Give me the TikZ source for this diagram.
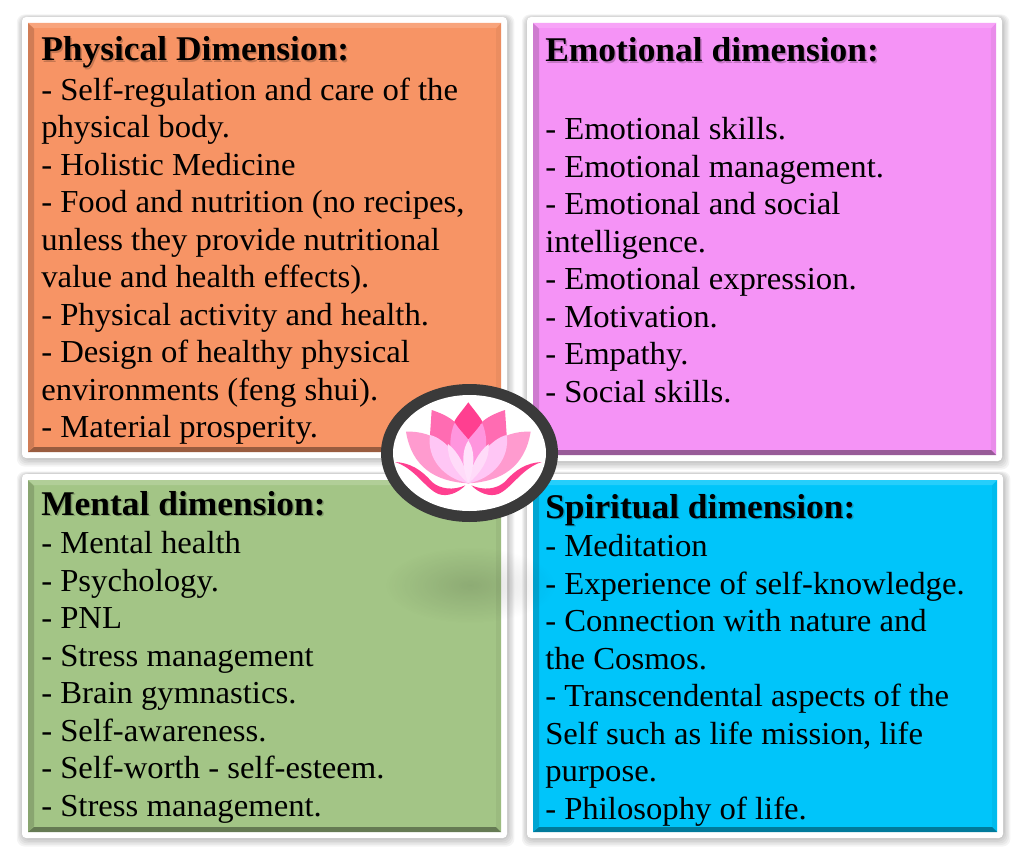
\documentclass[tikz,border=0pt]{standalone}
\usepackage{fontspec}
\setmainfont[FakeStretch=1.022]{Liberation Serif}
\usetikzlibrary{fadings}
\newcommand{\bodyfont}{\fontsize{24}{28.1}\selectfont}
\newcommand{\titlefont}{\fontsize{26}{28.1}\selectfont\bfseries}
\definecolor{cOrange}{HTML}{F79465}
\definecolor{cPink}{HTML}{F593F6}
\definecolor{cGreen}{HTML}{A3C586}
\definecolor{cBlue}{HTML}{00C5FA}
\definecolor{cRing}{HTML}{3A3A3A}
\definecolor{cDeep}{HTML}{FF3F90}
\definecolor{cBack}{HTML}{FF6CB2}
\definecolor{cMid}{HTML}{FF95DE}
\definecolor{cOuter}{HTML}{FF9BCF}
\definecolor{cInner}{HTML}{FFC6F5}
\definecolor{cCore}{HTML}{FFE2FB}
\tikzfading[name=softblob,inner color=transparent!0,outer color=transparent!100]
\tikzset{
  bodytext/.style={anchor=north west,inner sep=0pt,align=left,font=\bodyfont,text=black},
  titletext/.style={anchor=base west,inner sep=0pt,font=\titlefont,text=black},
  titleshadow/.style={anchor=base west,inner sep=0pt,font=\titlefont,text=black,opacity=.2},
  frame/.style={fill=white,rounded corners=3pt},
}
% x0 y0 x1 y1
\newcommand{\panelshadow}[4]{%
  \foreach \k in {1,...,6}{
    \fill[black,opacity=.045,rounded corners=6pt] (#1-4-\k*1.2,#2-5-\k*.6) rectangle (#3+5+\k*1.4,#4+5+\k*1.6);
  }
}
% x0 y0 x1 y1 colour
\newcommand{\panel}[5]{%
  \fill[frame] (#1-6,#2-6) rectangle (#3+6,#4+6);
  \fill[#5] (#1,#2) rectangle (#3,#4);
  \fill[#5!84!black] (#1,#2) -- (#1+6,#2+6) -- (#1+6,#4-6) -- (#1,#4) -- cycle;
  \fill[#5!95!black] (#3,#2) -- (#3-5,#2+6) -- (#3-5,#4-6) -- (#3,#4) -- cycle;
  \fill[#5!85!white] (#1,#2) -- (#1+6,#2+5) -- (#3-5,#2+5) -- (#3,#2) -- cycle;
  \fill[#5!62!black] (#1,#4) -- (#1+6,#4-5) -- (#3-5,#4-5) -- (#3,#4) -- cycle;
}
\newcommand{\lotushalf}{%
  % back petal
  \fill[cBack] (185,120) .. controls (215,130) and (240,142) .. (256,158) -- (295,340) .. controls (220,300) and (170,250) .. (180,195) -- cycle;
  % outer petal
  \fill[cOuter] (108,185) .. controls (150,183) and (190,195) .. (230,225) .. controls (260,260) and (285,300) .. (295,340) .. controls (195,335) and (125,290) .. (108,185) -- cycle;
  % middle petal
  \fill[cMid] (253,160) .. controls (275,175) and (290,195) .. (295,208) -- (295,340) .. controls (250,300) and (225,230) .. (253,160) -- cycle;
  % inner petal
  \fill[cInner] (180,195) .. controls (225,205) and (280,270) .. (295,340) .. controls (220,325) and (170,265) .. (180,195) -- cycle;
  \fill[cCore!75!cInner] (234,222) .. controls (265,245) and (290,295) .. (295,340) .. controls (260,310) and (230,270) .. (234,222) -- cycle;
  % swoosh
  \fill[cDeep] (75,276) .. controls (120,278) and (155,300) .. (185,335) .. controls (210,358) and (250,362) .. (286,346) .. controls (265,368) and (232,382) .. (205,372) .. controls (165,355) and (135,295) .. (75,276) -- cycle;
}
\begin{document}
\begin{tikzpicture}[x=.75pt,y=-.75pt]
\useasboundingbox (0,0) rectangle (1018,867);
\fill[white] (0,0) rectangle (1018,867);

\panelshadow{28}{23}{501}{452}
\panelshadow{533}{23}{996}{455}
\panelshadow{28}{480}{501}{832}
\panelshadow{533}{480}{997}{832}
\panel{28}{23}{501}{452}{cOrange}
\panel{533}{23}{996}{455}{cPink}
\panel{28}{480}{501}{832}{cGreen}
\panel{533}{480}{997}{832}{cBlue}

% soft shadow cast by the lotus badge
\fill[black,opacity=.13,path fading=softblob] (470,585) ellipse (85 and 38);

\node[titleshadow] (t1s) at (42.5,62.5) {Physical Dimension:};
\node[titletext] (t1) at (41,61) {Physical Dimension:};
\node[bodytext] (b1) at (41,77.5) {- Self-regulation and care of the\\physical body.\\- Holistic Medicine\\- Food and nutrition (no recipes,\\unless they provide nutritional\\value and health effects).\\- Physical activity and health.\\- Design of healthy physical\\environments (feng shui).\\- Material prosperity.};

\node[titleshadow] (t2s) at (546.5,63.5) {Emotional dimension:};
\node[titletext] (t2) at (545,62) {Emotional dimension:};
\node[bodytext] (b2) at (545,117.5) {- Emotional skills.\\- Emotional management.\\- Emotional and social\\intelligence.\\- Emotional expression.\\- Motivation.\\- Empathy.\\- Social skills.};

\node[titleshadow] (t3s) at (42.5,516.5) {Mental dimension:};
\node[titletext] (t3) at (41,515) {Mental dimension:};
\node[bodytext] (b3) at (41,531.5) {- Mental health\\- Psychology.\\- PNL\\- Stress management\\- Brain gymnastics.\\- Self-awareness.\\- Self-worth - self-esteem.\\- Stress management.};

\node[titleshadow] (t4s) at (546.5,519.5) {Spiritual dimension:};
\node[titletext] (t4) at (545,518) {Spiritual dimension:};
\node[bodytext] (b4) at (545,534.5) {- Meditation\\- Experience of self-knowledge.\\- Connection with nature and\\the Cosmos.\\- Transcendental aspects of the\\Self such as life mission, life\\purpose.\\- Philosophy of life.};

% badge
\fill[cRing] (469.5,453) ellipse (88.5 and 69);
\fill[white] (469.5,453) ellipse (76.5 and 58);
\begin{scope}[shift={(370,370)},x=.25pt,y=-.25pt]
  \lotushalf
  \begin{scope}[shift={(590,0)},xscale=-1]
    \lotushalf
  \end{scope}
  \fill[cDeep] (295,97) .. controls (310,118) and (330,140) .. (337,155) .. controls (325,175) and (305,195) .. (295,208) .. controls (285,195) and (265,175) .. (253,155) .. controls (260,140) and (280,118) .. (295,97) -- cycle;
  \fill[cCore] (295,212) .. controls (312,235) and (318,280) .. (295,340) .. controls (272,280) and (278,235) .. (295,212) -- cycle;
\end{scope}
\end{tikzpicture}
\end{document}
